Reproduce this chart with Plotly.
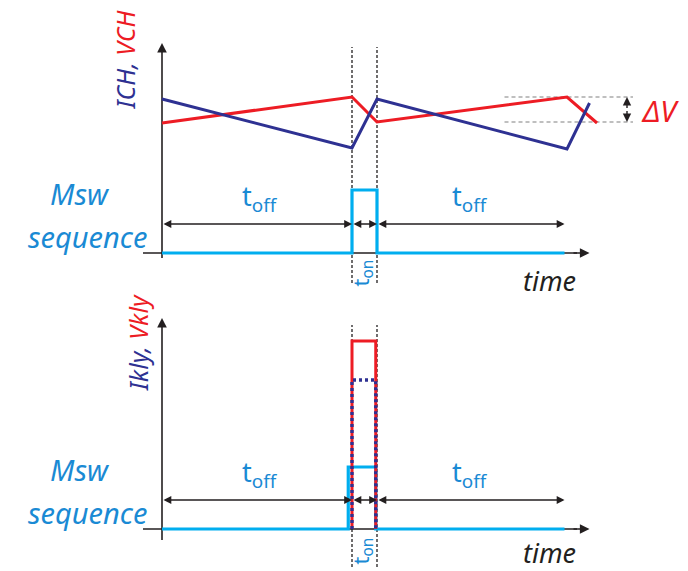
import plotly.graph_objects as go

# ---- waveform data (time in units of t_on, levels in arbitrary units) ----
T_OFF = 7.6
T_ON = 1.0

# upper panel: channel current / voltage and switch sequence
ch_t_i = [0, 7.6, 8.6, 16.2, 17.1]
ch_i = [15.4, 10.5, 15.4, 10.4, 15.0]
ch_t_v = [0, 7.6, 8.6, 16.2, 17.4]
ch_v = [13.0, 15.6, 13.1, 15.6, 13.0]
msw1_t = [0, 7.6, 7.6, 8.6, 8.6, 16.1]
msw1 = [0, 0, 6.3, 6.3, 0, 0]
dv_levels = [13.1, 15.6]

# lower panel: klystron current / voltage and switch sequence
kly_t = [7.6, 7.6, 8.55, 8.55]
kly_v = [0, 18.8, 18.8, 0]
kly_i = [0, 14.9, 14.9, 0]
msw2_t = [0, 7.45, 7.45, 8.55, 8.55, 16.1]
msw2 = [0, 0, 6.2, 6.2, 0, 0]

RED = "#ed1c24"
NAVY = "#2e3192"
CYAN = "#00aeef"
TEAL = "#1a8ad4"
INK = "#231f20"
FONT = "Noto Sans"

fig = go.Figure()
ann = []
shapes = []


def axis_lines(xa, ya, ybot, ytop):
    # plain axis lines sit under the waveforms; heads are added as annotations
    fig.add_trace(go.Scatter(x=[0, 0], y=[ybot, ytop - 0.6], mode="lines",
                             line=dict(color=INK, width=1.6), xaxis=xa, yaxis=ya))
    fig.add_trace(go.Scatter(x=[-0.76, 16.6], y=[0, 0], mode="lines",
                             line=dict(color=INK, width=1.6), xaxis=xa, yaxis=ya))


def arrow(xr, yr, x0, y0, x1, y1, both=False, width=1.5, size=1.2):
    ann.append(dict(x=x1, y=y1, ax=x0, ay=y0, xref=xr, yref=yr,
                    axref=xr, ayref=yr, text="", showarrow=True,
                    arrowhead=2, arrowsize=size, arrowwidth=width,
                    arrowcolor=INK, standoff=0, startstandoff=0,
                    arrowside="end+start" if both else "end",
                    startarrowhead=2, startarrowsize=size))


def label(xr, yr, x, y, text, size, color, angle=0, italic=True,
          xanchor="center", yanchor="middle"):
    ann.append(dict(x=x, y=y, xref=xr, yref=yr, text=text, showarrow=False,
                    textangle=angle, xanchor=xanchor, yanchor=yanchor,
                    font=dict(family=FONT, size=size, color=color,
                              style="italic" if italic else "normal")))


def vdash(xr, yr, x, y0, y1):
    shapes.append(dict(type="line", xref=xr, yref=yr, x0=x, x1=x, y0=y0, y1=y1,
                       layer="below",
                       line=dict(color=INK, width=1.3, dash="3px,2px")))


# upper panel traces
axis_lines("x", "y", -0.5, 21.0)
fig.add_trace(go.Scatter(x=msw1_t, y=msw1, mode="lines",
                         line=dict(color=CYAN, width=3.2), xaxis="x", yaxis="y"))
fig.add_trace(go.Scatter(x=ch_t_v, y=ch_v, mode="lines",
                         line=dict(color=RED, width=3), xaxis="x", yaxis="y"))
fig.add_trace(go.Scatter(x=ch_t_i, y=ch_i, mode="lines",
                         line=dict(color=NAVY, width=3), xaxis="x", yaxis="y"))

# lower panel traces
axis_lines("x2", "y2", -1.1, 21.1)
fig.add_trace(go.Scatter(x=msw2_t, y=msw2, mode="lines",
                         line=dict(color=CYAN, width=3.2), xaxis="x2", yaxis="y2"))
fig.add_trace(go.Scatter(x=kly_t, y=kly_v, mode="lines",
                         line=dict(color=RED, width=3), xaxis="x2", yaxis="y2"))
fig.add_trace(go.Scatter(x=kly_t, y=kly_i, mode="lines",
                         line=dict(color=NAVY, width=3.4, dash="3px,3px"),
                         xaxis="x2", yaxis="y2"))

for xr, yr, ytop, ymin in (("x", "y", 21.0, -3.5), ("x2", "y2", 21.1, -3.8)):
    top_dash = 20.6 if yr == "y" else 20.4
    vdash(xr, yr, T_OFF, ymin, top_dash)
    vdash(xr, yr, T_OFF + T_ON, ymin, top_dash)
    # axis heads
    arrow(xr, yr, 0, ytop - 1.0, 0, ytop, width=1.6)
    arrow(xr, yr, 16.4, 0, 17.1, 0, width=1.6)
    # t_off / t_on spans
    ya = 2.9
    arrow(xr, yr, 0, ya, T_OFF, ya, both=True, width=1.3)
    arrow(xr, yr, T_OFF, ya, T_OFF + T_ON, ya, both=True, width=1.3)
    arrow(xr, yr, T_OFF + T_ON, ya, 16.1, ya, both=True, width=1.3)
    label(xr, yr, 3.9, ya + 0.4, "t<sub>off</sub>", 27, TEAL, italic=False,
          yanchor="bottom")
    label(xr, yr, 12.3, ya + 0.4, "t<sub>off</sub>", 27, TEAL, italic=False,
          yanchor="bottom")
    label(xr, yr, 7.98, -2.0 if yr == "y" else -2.2, "t<sub>on</sub>", 22, TEAL,
          angle=-90, italic=False)
    # Msw sequence
    label(xr, yr, -3.3, 6.0, "Msw", 29, TEAL)
    label(xr, yr, -3.0, 1.7, "sequence", 29, TEAL)
    label(xr, yr, 15.5, -2.7 if yr == "y" else -2.35, "time", 27, INK)

# axis titles
label("x", "y", -1.5, 19.3,
      f"<span style='color:{NAVY}'>ICH,</span> <span style='color:{RED}'>VCH</span>",
      25, NAVY, angle=-90)
label("x2", "y2", -0.95, 18.6,
      f"<span style='color:{NAVY}'>Ikly,</span> <span style='color:{RED}'>Vkly</span>",
      25, NAVY, angle=-90)

# delta V marker
for lv in dv_levels:
    shapes.append(dict(type="line", xref="x", yref="y", x0=13.7, x1=18.84,
                       y0=lv, y1=lv, layer="below",
                       line=dict(color="#808080", width=1.1, dash="4px,3px")))
arrow("x", "y", 18.6, sum(dv_levels) / 2, 18.6, dv_levels[1], width=1.4)
arrow("x", "y", 18.6, sum(dv_levels) / 2, 18.6, dv_levels[0], width=1.4)
label("x", "y", 19.9, 14.3, "ΔV", 29, RED)

split = 1 - 285 / 571
noax = dict(visible=False, showgrid=False, zeroline=False, fixedrange=True)
fig.update_layout(
    width=688, height=571, margin=dict(l=0, r=0, t=0, b=0),
    paper_bgcolor="white", plot_bgcolor="white", showlegend=False,
    xaxis=dict(noax, range=[-6.48, 21.04], domain=[0, 1], anchor="y"),
    yaxis=dict(noax, range=[-3.2, 25.3], domain=[split, 1], anchor="x"),
    xaxis2=dict(noax, range=[-6.48, 21.04], domain=[0, 1], anchor="y2"),
    yaxis2=dict(noax, range=[-4.2, 24.4], domain=[0, split], anchor="x2"),
    annotations=ann, shapes=shapes,
)

fig.write_html("out.html")
